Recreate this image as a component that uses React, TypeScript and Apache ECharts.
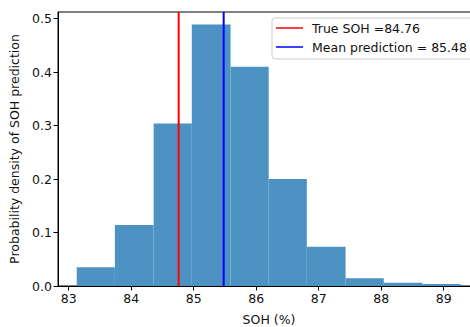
import React, { useEffect, useRef } from "react";
import * as echarts from "echarts";

const binEdges = [83.13, 83.74, 84.36, 84.97, 85.59, 86.2, 86.81, 87.43, 88.04, 88.66, 89.27];
const densities = [0.035, 0.114, 0.304, 0.489, 0.41, 0.2, 0.0736, 0.0144, 0.0062, 0.0037];
const trueSOH = 84.76;
const meanPred = 85.48;
const xTicks = [83, 84, 85, 86, 87, 88, 89];
const yTicks = [0, 0.1, 0.2, 0.3, 0.4, 0.5];
const xRange = [82.83, 89.58];
const yRange = [0, 0.5125];

const FONT = "DejaVu Sans";
const FS = 12.5;
const LINE_ICON = "path://M0,0H54V3H0Z";

export default function App() {
  const ref = useRef<HTMLDivElement>(null);
  useEffect(() => {
    if (!ref.current) return;
    const chart = echarts.init(ref.current, null, { renderer: "svg" });
    const histData = densities.map((d, i) => [binEdges[i], binEdges[i + 1], d]);
    chart.setOption({
      animation: false,
      backgroundColor: "#fff",
      textStyle: { fontFamily: FONT, fontSize: FS, color: "#111" },
      grid: {
        left: 58,
        top: 12,
        width: 422,
        height: 274,
        outerBoundsMode: "none",
        containLabel: false,
        show: true,
        borderColor: "#000",
        borderWidth: 1,
        backgroundColor: "transparent",
      },
      legend: {
        left: 272,
        top: 18,
        orient: "vertical",
        itemWidth: 27,
        itemHeight: 14,
        itemGap: 5,
        padding: [3, 10, 5, 4],
        borderColor: "#cccccc",
        borderWidth: 1,
        borderRadius: 3,
        backgroundColor: "rgba(255,255,255,0.8)",
        data: [
          { name: `True SOH =${trueSOH}`, icon: LINE_ICON, itemStyle: { color: "#ff0000" } },
          { name: `Mean prediction = ${meanPred}`, icon: LINE_ICON, itemStyle: { color: "#0000ff" } },
        ],
        textStyle: { fontFamily: FONT, fontSize: FS, color: "#111", padding: [0, 0, 0, 4], lineHeight: 14 },
        z: 10,
      },
      xAxis: {
        type: "value",
        min: xRange[0],
        max: xRange[1],
        name: "SOH (%)",
        nameLocation: "middle",
        nameGap: 27,
        nameTextStyle: { fontFamily: FONT, fontSize: FS, color: "#111" },
        axisLine: { show: true, lineStyle: { color: "#000", width: 1 } },
        axisTick: { show: true, length: 4.5, customValues: xTicks, lineStyle: { color: "#000", width: 1 } },
        axisLabel: {
          customValues: xTicks,
          margin: 6,
          fontFamily: FONT,
          fontSize: FS,
          color: "#111",
          formatter: (v: number) => String(Math.round(v)),
        },
        splitLine: { show: false },
      },
      yAxis: {
        type: "value",
        min: yRange[0],
        max: yRange[1],
        name: "Probability density of SOH prediction",
        nameLocation: "middle",
        nameGap: 33,
        nameTextStyle: { fontFamily: FONT, fontSize: FS, color: "#111" },
        axisLine: { show: true, lineStyle: { color: "#000", width: 1 } },
        axisTick: { show: true, length: 4.5, customValues: yTicks, lineStyle: { color: "#000", width: 1 } },
        axisLabel: {
          customValues: yTicks,
          margin: 6,
          fontFamily: FONT,
          fontSize: FS,
          color: "#111",
          formatter: (v: number) => v.toFixed(1),
        },
        splitLine: { show: false },
      },
      series: [
        {
          type: "custom",
          name: "hist",
          data: histData,
          encode: { x: [0, 1], y: 2 },
          renderItem: (params: any, api: any) => {
            const x0 = api.value(0);
            const x1 = api.value(1);
            const h = api.value(2);
            const p0 = api.coord([x0, h]);
            const p1 = api.coord([x1, 0]);
            return {
              type: "rect",
              shape: { x: p0[0], y: p0[1], width: p1[0] - p0[0], height: p1[1] - p0[1] },
              style: { fill: "#4c92c3" },
            };
          },
          z: 1,
        },
        {
          type: "line",
          name: `True SOH =${trueSOH}`,
          data: [
            [trueSOH, yRange[0]],
            [trueSOH, yRange[1]],
          ],
          symbol: "none",
          showSymbol: false,
          color: "#ff0000",
          lineStyle: { color: "#ff0000", width: 2 },
          z: 3,
        },
        {
          type: "line",
          name: `Mean prediction = ${meanPred}`,
          data: [
            [meanPred, yRange[0]],
            [meanPred, yRange[1]],
          ],
          symbol: "none",
          showSymbol: false,
          color: "#0000ff",
          lineStyle: { color: "#0000ff", width: 2 },
          z: 3,
        },
      ],
    });
    return () => chart.dispose();
  }, []);
  return (
    <div
      ref={ref}
      style={{ position: "fixed", left: 0, top: 0, width: 500, height: 327 }}
    />
  );
}
